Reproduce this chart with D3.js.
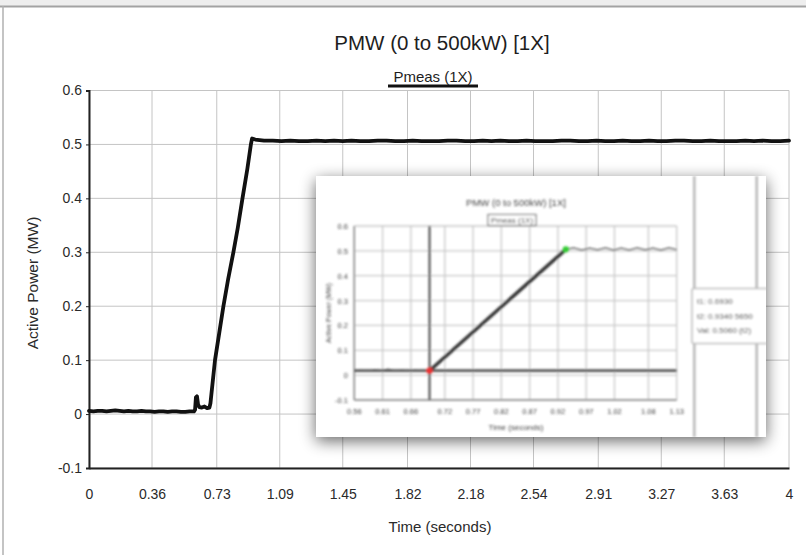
<!DOCTYPE html>
<html><head><meta charset="utf-8">
<script src="https://cdn.jsdelivr.net/npm/d3@7/dist/d3.min.js"></script>
<style>
body{margin:0;background:#fff}
svg{display:block}
text{font-family:"Liberation Sans",Arial,Helvetica,sans-serif}
</style>
</head><body>
<svg id="chart" width="806" height="555"></svg>
<script>
// ---- main chart content ----
const chartTitle = "PMW (0 to 500kW) [1X]";
const seriesName = "Pmeas (1X)";
const xTitle = "Time (seconds)";
const yTitle = "Active Power (MW)";
const xTickLabels = ["0","0.36","0.73","1.09","1.45","1.82","2.18","2.54","2.91","3.27","3.63","4"];
const yTickLabels = ["-0.1","0","0.1","0.2","0.3","0.4","0.5","0.6"];

// measured active power trace (seconds, MW)
const timeS = [
  0,0.025,0.05,0.075,0.1,0.125,0.15,0.175,0.2,0.225,0.25,0.275,0.3,0.325,0.35,0.375,0.4,0.425,0.45,0.475,0.5,0.525,0.55,0.575,0.6,
  0.606,0.611,0.617,0.623,0.63,0.645,0.66,0.675,0.688,
  0.694,0.72,0.745,0.768,0.795,0.825,0.85,0.877,0.905,0.925,0.932,
  0.95,1.0,1.05,1.1,1.15,1.2,1.25,1.3,1.35,1.4,1.45,1.5,1.55,1.6,1.65,1.7,1.75,1.8,1.85,1.9,1.95,2.0,
  2.05,2.1,2.15,2.2,2.25,2.3,2.35,2.4,2.45,2.5,2.55,2.6,2.65,2.7,2.75,2.8,2.85,2.9,2.95,3.0,
  3.05,3.1,3.15,3.2,3.25,3.3,3.35,3.4,3.45,3.5,3.55,3.6,3.65,3.7,3.75,3.8,3.85,3.9,3.95,4.0
];
const powerMW = [
  0.006,0.005,0.006,0.006,0.005,0.006,0.007,0.006,0.005,0.006,0.005,0.005,0.006,0.005,0.005,0.004,0.005,0.005,0.004,0.005,0.005,0.004,0.004,0.005,0.005,
  0.008,0.031,0.033,0.018,0.013,0.012,0.014,0.011,0.012,
  0.02,0.1,0.152,0.2,0.25,0.3,0.345,0.4,0.455,0.5,0.511,
  0.509,0.507,0.507,0.506,0.507,0.506,0.506,0.507,0.506,0.507,
  0.506,0.507,0.506,0.506,0.507,0.507,0.506,0.506,0.507,0.506,
  0.506,0.506,0.507,0.507,0.506,0.506,0.507,0.506,0.507,0.506,
  0.506,0.507,0.506,0.506,0.506,0.507,0.507,0.506,0.506,0.507,
  0.506,0.506,0.507,0.506,0.506,0.507,0.506,0.506,0.507,0.507,
  0.506,0.506,0.507,0.506,0.506,0.506,0.507,0.506,0.507,0.506,
  0.506,0.507
];

// ---- zoomed detail panel content ----
const detailXTickLabels = ["0.56","0.61","0.66","0.72","0.77","0.82","0.87","0.92","0.97","1.02","1.08","1.13"];
const detailYTickLabels = ["0.6","0.5","0.4","0.3","0.2","0.1","0","-0.1"];
const detailTimeS = [0.56,0.572,0.584,0.596,0.608,0.62,0.632,0.644,0.656,0.668,0.68,0.693,0.934,
  0.948,0.962,0.976,0.99,1.004,1.018,1.032,1.046,1.06,1.074,1.088,1.102,1.116,1.13];
const detailPowerMW = [0.016,0.019,0.015,0.021,0.017,0.024,0.016,0.02,0.015,0.019,0.016,0.018,0.506,
  0.512,0.503,0.511,0.504,0.512,0.503,0.511,0.503,0.512,0.504,0.511,0.503,0.512,0.505];
const cursorTimes = [0.693, 0.934];
const cursorValues = [0.018, 0.506];
const readoutLines = ["t1:   0.6930", "t2:   0.9340 5650", "Val: 0.5060 (t2)"];

const svg = d3.select("#chart");
const defs = svg.append("defs");

// window frame
svg.append("rect").attr("x",0).attr("y",0).attr("width",806).attr("height",6).attr("fill","#eeeeee");
svg.append("line").attr("x1",0).attr("x2",806).attr("y1",6.5).attr("y2",6.5).attr("stroke","#a3a3a3").attr("stroke-width",2);
svg.append("line").attr("x1",3).attr("x2",3).attr("y1",6).attr("y2",555).attr("stroke","#b0b0b0").attr("stroke-width",1.5);

// scales
const x = d3.scaleLinear().domain([0,4]).range([89,789]);
const y = d3.scaleLinear().domain([-0.1,0.6]).range([468,90.5]);

const textCol = "#2a2a2a";
const yTickValues = yTickLabels.map(Number);
const xTickValues = xTickLabels.map(Number);

// grid
const grid = svg.append("g");
grid.selectAll(".gx").data(xTickValues).join("line")
  .attr("x1",d=>x(d)).attr("x2",d=>x(d)).attr("y1",y(0.6)).attr("y2",y(-0.1))
  .attr("stroke","#c4c4c4").attr("stroke-width",1);
grid.selectAll(".gy").data(yTickValues).join("line")
  .attr("x1",x(0)).attr("x2",x(4)).attr("y1",d=>y(d)).attr("y2",d=>y(d))
  .attr("stroke","#c4c4c4").attr("stroke-width",1);

// axes
const yAxis = svg.append("g").attr("transform",`translate(${x(0)},0)`)
  .call(d3.axisLeft(y).tickValues(yTickValues).tickSize(3).tickFormat((d,i)=>yTickLabels[i]));
const xAxis = svg.append("g").attr("transform",`translate(0,${y(-0.1)})`)
  .call(d3.axisBottom(x).tickValues(xTickValues).tickSize(0).tickFormat((d,i)=>xTickLabels[i]));
[xAxis,yAxis].forEach(a=>{
  a.select(".domain").attr("stroke","#222").attr("stroke-width",2);
  a.selectAll(".tick line").attr("stroke","#222");
  a.selectAll(".tick text").attr("fill",textCol).style("font-size","14px").style("font-family",'"Liberation Sans",Arial,sans-serif');
});
yAxis.selectAll(".tick text").attr("x",-7);
xAxis.selectAll(".tick text").attr("y",21);

// series
const line = d3.line().x((d,i)=>x(timeS[i])).y(d=>y(d));
svg.append("path").datum(powerMW).attr("d",line)
  .attr("fill","none").attr("stroke","#111").attr("stroke-width",3.8)
  .attr("stroke-linejoin","round").attr("stroke-linecap","round");

// titles
svg.append("text").attr("x",442).attr("y",50).attr("text-anchor","middle")
  .style("font-size","20.5px").attr("fill","#1e1e1e").text(chartTitle);
svg.append("text").attr("x",433).attr("y",82).attr("text-anchor","middle")
  .style("font-size","15px").attr("fill","#1e1e1e").text(seriesName);
svg.append("line").attr("x1",388).attr("x2",478).attr("y1",86).attr("y2",86)
  .attr("stroke","#111").attr("stroke-width",3);
svg.append("text").attr("x",440).attr("y",532).attr("text-anchor","middle")
  .style("font-size","15px").attr("fill",textCol).text(xTitle);
svg.append("text").attr("transform","translate(38,283) rotate(-90)").attr("text-anchor","middle")
  .style("font-size","15.5px").attr("fill",textCol).text(yTitle);

// ---- detail panel (zoomed screenshot) ----
const P = {x:316, y:176, w:450, h:261};
const shadow = defs.append("filter").attr("id","shadow").attr("x","-20%").attr("y","-20%").attr("width","140%").attr("height","150%");
shadow.append("feGaussianBlur").attr("stdDeviation",8);
const soft = defs.append("filter").attr("id","soft").attr("x","-5%").attr("y","-5%").attr("width","110%").attr("height","110%");
soft.append("feGaussianBlur").attr("stdDeviation",1.15);
defs.append("clipPath").attr("id","panelClip").append("rect")
  .attr("x",P.x).attr("y",P.y).attr("width",P.w).attr("height",P.h);

svg.append("rect").attr("x",P.x).attr("y",P.y+4).attr("width",P.w).attr("height",P.h)
  .attr("fill","#000").attr("opacity",0.6).attr("filter","url(#shadow)");
svg.append("rect").attr("x",P.x).attr("y",P.y).attr("width",P.w).attr("height",P.h).attr("fill","#fff");

const panel = svg.append("g").attr("clip-path","url(#panelClip)").append("g").attr("filter","url(#soft)");
const dx = d3.scaleLinear().domain([0.56,1.13]).range([354.3,676.7]);
const dy = d3.scaleLinear().domain([-0.1,0.6]).range([400,226]);
const dCol = "#444";

// side panel dividers
[694.3,756.7].forEach(px=>panel.append("line").attr("x1",px).attr("x2",px).attr("y1",P.y).attr("y2",P.y+P.h)
  .attr("stroke","#b8b8b8").attr("stroke-width",2.5));

panel.selectAll(".dgx").data(detailXTickLabels.map(Number)).join("line")
  .attr("x1",d=>dx(d)).attr("x2",d=>dx(d)).attr("y1",dy(0.6)).attr("y2",dy(-0.1))
  .attr("stroke","#c8c8c8").attr("stroke-width",1.3);
panel.selectAll(".dgy").data(detailYTickLabels.map(Number)).join("line")
  .attr("x1",dx(0.56)).attr("x2",dx(1.13)).attr("y1",d=>dy(d)).attr("y2",d=>dy(d))
  .attr("stroke","#c8c8c8").attr("stroke-width",1.3);
panel.append("line").attr("x1",dx(0.56)).attr("x2",dx(0.56)).attr("y1",dy(0.6)).attr("y2",dy(-0.1)).attr("stroke","#777").attr("stroke-width",1.3);
panel.append("line").attr("x1",dx(0.56)).attr("x2",dx(1.13)).attr("y1",dy(-0.1)).attr("y2",dy(-0.1)).attr("stroke","#888").attr("stroke-width",1.3);

panel.selectAll(".dyl").data(detailYTickLabels).join("text")
  .attr("x",348).attr("y",d=>dy(+d)+3).attr("text-anchor","end")
  .style("font-size","7.5px").attr("fill",dCol).text(d=>d);
panel.selectAll(".dxl").data(detailXTickLabels).join("text")
  .attr("x",d=>dx(+d)).attr("y",414).attr("text-anchor","middle")
  .style("font-size","7.5px").attr("fill",dCol).text(d=>d);
panel.append("text").attr("x",516).attr("y",430).attr("text-anchor","middle")
  .style("font-size","8px").attr("fill",dCol).text(xTitle);
panel.append("text").attr("transform","translate(331,313) rotate(-90)").attr("text-anchor","middle")
  .style("font-size","7px").attr("fill",dCol).text(yTitle);
panel.append("text").attr("x",516).attr("y",206).attr("text-anchor","middle")
  .style("font-size","9.5px").attr("fill",dCol).text(chartTitle);
panel.append("rect").attr("x",488).attr("y",214.5).attr("width",48).attr("height",11)
  .attr("fill","#fff").attr("stroke","#777").attr("stroke-width",1.2);
panel.append("text").attr("x",512).attr("y",223).attr("text-anchor","middle")
  .style("font-size","8px").attr("fill",dCol).text(seriesName);

// cursors
panel.append("line").attr("x1",dx(0.56)).attr("x2",dx(1.13)).attr("y1",dy(cursorValues[0])).attr("y2",dy(cursorValues[0]))
  .attr("stroke","#555").attr("stroke-width",2.6);
panel.append("line").attr("x1",dx(cursorTimes[0])).attr("x2",dx(cursorTimes[0])).attr("y1",dy(0.6)).attr("y2",dy(-0.1))
  .attr("stroke","#444").attr("stroke-width",2);

// detail trace
const dline = d3.line().x((d,i)=>dx(detailTimeS[i])).y(d=>dy(d));
panel.append("path").datum(detailPowerMW).attr("d",dline)
  .attr("fill","none").attr("stroke","#555").attr("stroke-width",1.3);
const i1 = detailTimeS.indexOf(cursorTimes[0]), i2 = detailTimeS.indexOf(cursorTimes[1]);
panel.append("path").datum(detailPowerMW.slice(i1,i2+1))
  .attr("d",d3.line().x((d,i)=>dx(detailTimeS[i1+i])).y(d=>dy(d)))
  .attr("fill","none").attr("stroke","#333").attr("stroke-width",3.4);
panel.append("circle").attr("cx",dx(cursorTimes[0])).attr("cy",dy(cursorValues[0])).attr("r",3.2).attr("fill","#e33");
panel.append("circle").attr("cx",dx(cursorTimes[1])).attr("cy",dy(cursorValues[1])).attr("r",3.2).attr("fill","#3c3");

// cursor readout box
panel.append("rect").attr("x",692).attr("y",288.5).attr("width",90).attr("height",55)
  .attr("fill","#fff").attr("stroke","#bbb").attr("stroke-width",1.5).attr("rx",2);
panel.selectAll(".ro").data(readoutLines).join("text")
  .attr("x",697).attr("y",(d,i)=>304+i*14.5)
  .style("font-size","8px").attr("fill",dCol).text(d=>d);
</script>
</body></html>
